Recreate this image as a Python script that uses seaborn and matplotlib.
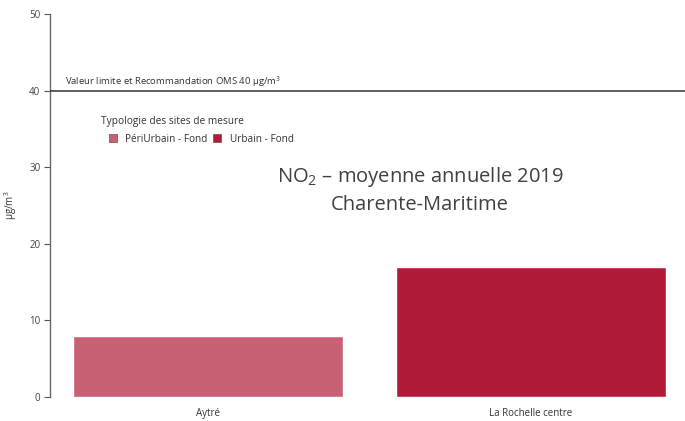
import matplotlib
matplotlib.use("Agg")
import matplotlib.pyplot as plt
import seaborn as sns
import pandas as pd
from matplotlib.patches import Patch

# Annual mean NO2 per monitoring site
sites = ["Aytré", "La Rochelle centre"]
typologies = ["PériUrbain - Fond", "Urbain - Fond"]
values = [8, 17]
colors = ["#C96175", "#B01B3A"]
limit_value = 40
y_ticks = [0, 10, 20, 30, 40, 50]

df = pd.DataFrame({"site": sites, "typologie": typologies, "valeur": values})

sns.set_theme(style="white")
plt.rcParams["font.family"] = ["Open Sans", "DejaVu Sans"]
plt.rcParams["mathtext.fontset"] = "custom"
plt.rcParams["mathtext.rm"] = "Open Sans"
plt.rcParams["mathtext.it"] = "Open Sans:italic"

fig = plt.figure(figsize=(6.85, 4.21), dpi=100)
ax = fig.add_axes([0.073, 0.057, 0.933, 0.910])

sns.barplot(data=df, x="site", y="valeur", hue="typologie",
            palette=dict(zip(typologies, colors)), dodge=False,
            width=0.835, saturation=1, ax=ax, legend=False)

ax.set_xlim(-0.49, 1.49)
ax.set_ylim(0, 50)
ax.set_yticks(y_ticks)
ax.tick_params(axis="y", length=4, width=0.8, color="#555555", labelsize=7,
               labelcolor="#444444", left=True, pad=3)
ax.tick_params(axis="x", length=0, labelsize=7, labelcolor="#333333", pad=8)
ax.set_xlabel("")
ax.set_ylabel("µg/m$^{3}$", fontsize=7, color="#333333")
ax.yaxis.set_label_coords(-0.049, 0.5)

for side in ["top", "right", "bottom"]:
    ax.spines[side].set_visible(False)
ax.spines["left"].set_color("#666666")
ax.spines["left"].set_linewidth(1.0)

# Regulatory limit line
ax.axhline(limit_value, color="#333333", lw=1.1, zorder=3)
ax.text(-0.443, limit_value + 0.25, "Valeur limite et Recommandation OMS 40 µg/m$^{3}$",
        fontsize=6.8, color="#333333", ha="left", va="bottom")

# Title inside the plot area
ax.text(0.656, 27.0, "NO$_{2}$ – moyenne annuelle 2019\nCharente-Maritime",
        fontsize=14.5, color="#404040", ha="center", va="center", linespacing=1.45)

# Legend
ax.text(-0.333, 35.9, "Typologie des sites de mesure", fontsize=7.3,
        color="#333333", ha="left", va="center")
handles = [Patch(facecolor=c, edgecolor="#555555", linewidth=0.5, label=t)
           for t, c in zip(typologies, colors)]
leg = ax.legend(handles=handles, loc="center left",
                bbox_to_anchor=(0.092, 0.673), ncol=2, borderaxespad=0,
                frameon=False, fontsize=7.2, borderpad=0,
                handlelength=0.8, handleheight=0.8, handletextpad=0.85,
                columnspacing=0.55)
for t in leg.get_texts():
    t.set_color("#333333")

fig.savefig("out.png", dpi=100)
